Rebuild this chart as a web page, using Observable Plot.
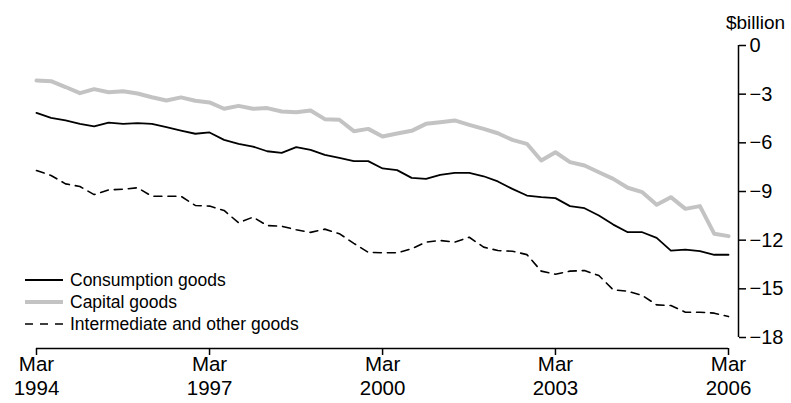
<!DOCTYPE html>
<html>
<head>
<meta charset="utf-8">
<script src="https://cdn.jsdelivr.net/npm/d3@7"></script>
<script src="https://cdn.jsdelivr.net/npm/@observablehq/plot@0.6"></script>
<style>
html, body { margin: 0; padding: 0; background: #fff; }
#chart { position: relative; width: 791px; height: 403px; font-family: "Liberation Sans", Arial, sans-serif; }
#legend { position: absolute; left: 25px; top: 269px; font-size: 17.5px; color: #000; }
.row { display: flex; align-items: center; height: 22px; white-space: nowrap; }
.row svg { margin-right: 7px; }
</style>
</head>
<body>
<div id="chart"><div id="legend"></div></div>
<script>
// Quarterly, Mar 1994 .. Mar 2006
const startYear = 1994;
const startMonth = 2; // March
const nQuarters = 49;

const seriesNames = ["Consumption goods", "Capital goods", "Intermediate and other goods"];

const consumption = [
  -4.15, -4.46, -4.62, -4.83, -4.99, -4.75, -4.83, -4.79, -4.83, -5.03,
  -5.24, -5.44, -5.36, -5.82, -6.06, -6.23, -6.52, -6.62, -6.27, -6.43,
  -6.74, -6.93, -7.13, -7.13, -7.58, -7.68, -8.16, -8.22, -7.97, -7.85,
  -7.85, -8.06, -8.38, -8.84, -9.25, -9.35, -9.41, -9.90, -10.03, -10.48,
  -11.04, -11.51, -11.51, -11.86, -12.64, -12.58, -12.68, -12.90, -12.90
];

const capital = [
  -2.16, -2.20, -2.56, -2.94, -2.69, -2.88, -2.82, -2.96, -3.19, -3.39,
  -3.20, -3.41, -3.51, -3.90, -3.72, -3.90, -3.86, -4.07, -4.11, -4.01,
  -4.54, -4.58, -5.28, -5.14, -5.61, -5.42, -5.26, -4.83, -4.73, -4.62,
  -4.89, -5.14, -5.41, -5.82, -6.06, -7.09, -6.58, -7.19, -7.40, -7.81,
  -8.22, -8.77, -9.04, -9.82, -9.35, -10.07, -9.90, -11.61, -11.75
];

const intermediate = [
  -7.71, -8.01, -8.53, -8.69, -9.19, -8.90, -8.86, -8.77, -9.29, -9.29,
  -9.29, -9.86, -9.90, -10.17, -10.93, -10.58, -11.10, -11.14, -11.36, -11.52,
  -11.32, -11.60, -12.20, -12.75, -12.78, -12.78, -12.53, -12.12, -12.02, -12.12,
  -11.82, -12.43, -12.64, -12.68, -12.89, -13.91, -14.10, -13.91, -13.87, -14.18,
  -15.06, -15.15, -15.41, -15.99, -16.03, -16.44, -16.44, -16.50, -16.71
];

const xTickYears = [1994, 1997, 2000, 2003, 2006];
const yTicks = [0, -3, -6, -9, -12, -15, -18];

const seriesValues = [consumption, capital, intermediate];
const seriesStyles = [
  {stroke: "#000000", strokeWidth: 1.8, dash: null},
  {stroke: "#c3c3c3", strokeWidth: 4, dash: null},
  {stroke: "#000000", strokeWidth: 1.6, dash: "8,6"}
];

const dates = d3.range(nQuarters).map(i => new Date(Date.UTC(startYear, startMonth + 3 * i, 1)));
const xTicks = xTickYears.map(y => new Date(Date.UTC(y, startMonth, 1)));
const yMin = d3.min(yTicks), yMax = d3.max(yTicks);

const rows = seriesNames.flatMap((name, s) =>
  dates.map((date, i) => ({series: name, date, value: seriesValues[s][i]})));

const lineMarks = seriesNames.map((name, s) =>
  Plot.lineY(rows.filter(r => r.series === name), {
    x: "date", y: "value",
    stroke: seriesStyles[s].stroke,
    strokeWidth: seriesStyles[s].strokeWidth,
    strokeDasharray: seriesStyles[s].dash,
    strokeLinejoin: "round"
  }));

const chart = Plot.plot({
  width: 791,
  height: 403,
  marginLeft: 36,
  marginRight: 63,
  marginTop: 45,
  marginBottom: 66,
  style: {fontFamily: "'Liberation Sans', Arial, sans-serif", fontSize: "20px", color: "#000", background: "transparent"},
  x: {type: "utc", domain: [dates[0], dates[dates.length - 1]]},
  y: {domain: [yMin, yMax]},
  marks: [
    Plot.ruleY([yMin], {dy: 11, stroke: "#000", strokeWidth: 1.5}),
    Plot.axisX({ticks: xTicks, tickFormat: d => `Mar\n${d.getUTCFullYear()}`, tickSize: 7, tickPadding: -1, dy: 11, lineHeight: 1.15, fontSize: 20.5, label: null, strokeWidth: 1.5}),
    Plot.ruleX([dates[dates.length - 1]], {y1: yMin, y2: yMax, dx: 10, stroke: "#000", strokeWidth: 1.5}),
    Plot.axisY({anchor: "right", ticks: yTicks, tickSize: 7, tickPadding: 4, dx: 10, label: null, fontSize: 20, strokeWidth: 1.5}),
    Plot.text(["$billion"], {frameAnchor: "top-right", dx: 27, dy: -30, fontSize: 19, textAnchor: "middle"}),
    ...lineMarks
  ]
});

document.getElementById("chart").prepend(chart);

// Legend
const legend = d3.select("#legend");
seriesNames.forEach((name, s) => {
  const row = legend.append("div").attr("class", "row");
  const sw = row.append("svg").attr("width", 38).attr("height", 10);
  sw.append("line").attr("x1", 0).attr("x2", 38).attr("y1", 5).attr("y2", 5)
    .attr("stroke", seriesStyles[s].stroke)
    .attr("stroke-width", seriesStyles[s].strokeWidth)
    .attr("stroke-dasharray", seriesStyles[s].dash ? "8,7" : null);
  row.append("span").text(name);
});
</script>
</body>
</html>
